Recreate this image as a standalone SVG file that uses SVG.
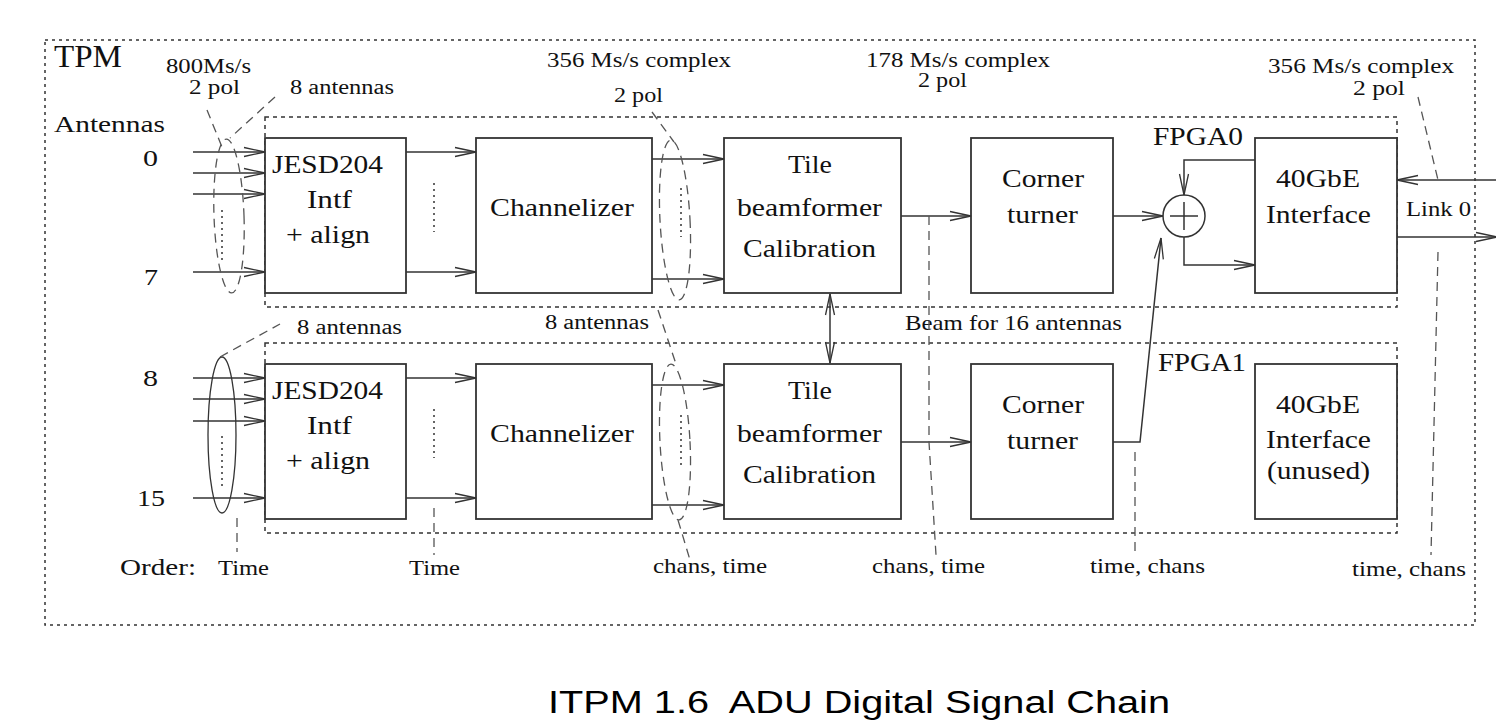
<svg xmlns="http://www.w3.org/2000/svg" width="1496" height="720" viewBox="0 0 1496 720">
<defs>
<marker id="ah" markerUnits="userSpaceOnUse" markerWidth="24" markerHeight="12" refX="22" refY="6" orient="auto" overflow="visible">
<path d="M1,1.5 L22,6 L1,10.5" fill="none" stroke="#333" stroke-width="1.3"/>
</marker>
<marker id="ahs" markerUnits="userSpaceOnUse" markerWidth="24" markerHeight="12" refX="22" refY="6" orient="auto-start-reverse" overflow="visible">
<path d="M1,1.5 L22,6 L1,10.5" fill="none" stroke="#333" stroke-width="1.3"/>
</marker>
</defs>
<style>
.box{fill:#fff;stroke:#333;stroke-width:1.8}
.frame{fill:none;stroke:#333;stroke-width:1.5;stroke-dasharray:3,4}
.fpga{fill:none;stroke:#333;stroke-width:1.5;stroke-dasharray:4,4}
.ln{fill:none;stroke:#333;stroke-width:1.5}
.arr{fill:none;stroke:#333;stroke-width:1.5;marker-end:url(#ah)}
.dash{fill:none;stroke:#555;stroke-width:1.3;stroke-dasharray:9,6}
.dot{fill:none;stroke:#333;stroke-width:1.5;stroke-dasharray:2,4}
text{font-family:"Liberation Serif","Times New Roman",serif;fill:#111}
.b{font-size:25px}
.s{font-size:20px}
.m{font-size:24px}
.o{font-size:22px}
.title{font-family:"Liberation Sans",Arial,sans-serif;font-size:31px;fill:#000}
</style>
<rect width="1496" height="720" fill="#fff"/>

<g id="frames">
<rect class="frame" x="45" y="40" width="1430" height="585"/>
<rect class="fpga" x="265" y="117" width="1132" height="190"/>
<rect class="fpga" x="265" y="343" width="1132" height="190"/>
</g>

<g id="labels">
<text x="54" y="67" style="font-size:32px" textLength="68" lengthAdjust="spacingAndGlyphs">TPM</text>
<text class="s" x="166" y="73" textLength="85" lengthAdjust="spacingAndGlyphs">800Ms/s</text>
<text class="s" x="189" y="94" textLength="51" lengthAdjust="spacingAndGlyphs">2 pol</text>
<text class="s" x="290" y="94" textLength="104" lengthAdjust="spacingAndGlyphs">8 antennas</text>
<text class="s" x="547" y="67" textLength="184" lengthAdjust="spacingAndGlyphs">356 Ms/s complex</text>
<text class="s" x="614" y="102" textLength="49" lengthAdjust="spacingAndGlyphs">2 pol</text>
<text class="s" x="866" y="67" textLength="184" lengthAdjust="spacingAndGlyphs">178 Ms/s complex</text>
<text class="s" x="918" y="87" textLength="49" lengthAdjust="spacingAndGlyphs">2 pol</text>
<text class="s" x="1268" y="73" textLength="186" lengthAdjust="spacingAndGlyphs">356 Ms/s complex</text>
<text class="s" x="1353" y="95" textLength="52" lengthAdjust="spacingAndGlyphs">2 pol</text>
<text class="m" x="54" y="132" textLength="111" lengthAdjust="spacingAndGlyphs">Antennas</text>
<text class="m" x="143" y="166" textLength="15" lengthAdjust="spacingAndGlyphs">0</text>
<text class="m" x="144" y="285" textLength="14" lengthAdjust="spacingAndGlyphs">7</text>
<text class="m" x="143" y="386" textLength="15" lengthAdjust="spacingAndGlyphs">8</text>
<text class="m" x="137" y="506" textLength="28" lengthAdjust="spacingAndGlyphs">15</text>
<text style="font-size:26px" x="1153" y="145" textLength="90" lengthAdjust="spacingAndGlyphs">FPGA0</text>
<text style="font-size:26px" x="1158" y="371" textLength="88" lengthAdjust="spacingAndGlyphs">FPGA1</text>
<text class="s" x="297" y="334" textLength="105" lengthAdjust="spacingAndGlyphs">8 antennas</text>
<text class="s" x="545" y="329" textLength="104" lengthAdjust="spacingAndGlyphs">8 antennas</text>
<text style="font-size:21px" x="905" y="330" textLength="217" lengthAdjust="spacingAndGlyphs">Beam for 16 antennas</text>
<text style="font-size:21px" x="1406" y="216" textLength="65" lengthAdjust="spacingAndGlyphs">Link 0</text>
<text class="m" x="120" y="575" textLength="76" lengthAdjust="spacingAndGlyphs">Order:</text>
<text class="o" x="218" y="575" textLength="51" lengthAdjust="spacingAndGlyphs">Time</text>
<text class="o" x="409" y="575" textLength="51" lengthAdjust="spacingAndGlyphs">Time</text>
<text class="o" x="653" y="573" textLength="114" lengthAdjust="spacingAndGlyphs">chans, time</text>
<text class="o" x="872" y="573" textLength="113" lengthAdjust="spacingAndGlyphs">chans, time</text>
<text class="o" x="1090" y="573" textLength="115" lengthAdjust="spacingAndGlyphs">time, chans</text>
<text class="o" x="1352" y="576" textLength="114" lengthAdjust="spacingAndGlyphs">time, chans</text>
<text class="title" x="548" y="713" textLength="622" lengthAdjust="spacingAndGlyphs" xml:space="preserve">ITPM 1.6  ADU Digital Signal Chain</text>
</g>

<g id="jesd0">
<rect class="box" x="265" y="138" width="141" height="155"/>
<text class="b" x="272" y="173" textLength="111" lengthAdjust="spacingAndGlyphs">JESD204</text>
<text class="b" x="307" y="208" textLength="45" lengthAdjust="spacingAndGlyphs">Intf</text>
<text class="b" x="286" y="243" textLength="84" lengthAdjust="spacingAndGlyphs">+ align</text>
</g>
<g id="chan0">
<rect class="box" x="476" y="138" width="176" height="155"/>
<text class="b" x="490" y="216" textLength="144" lengthAdjust="spacingAndGlyphs">Channelizer</text>
</g>
<g id="tile0">
<rect class="box" x="724" y="138" width="177" height="155"/>
<text class="b" x="788" y="173" textLength="44" lengthAdjust="spacingAndGlyphs">Tile</text>
<text class="b" x="737" y="216" textLength="145" lengthAdjust="spacingAndGlyphs">beamformer</text>
<text class="b" x="743" y="257" textLength="133" lengthAdjust="spacingAndGlyphs">Calibration</text>
</g>
<g id="corner0">
<rect class="box" x="971" y="138" width="142" height="155"/>
<text class="b" x="1002" y="187" textLength="82" lengthAdjust="spacingAndGlyphs">Corner</text>
<text class="b" x="1007" y="223" textLength="71" lengthAdjust="spacingAndGlyphs">turner</text>
</g>
<g id="adder0">
<circle cx="1184" cy="216" r="21" fill="#fff" stroke="#333" stroke-width="1.5"/>
<path class="ln" d="M1170,216 H1198 M1184,202 V230"/>
</g>
<g id="gbe0">
<rect class="box" x="1255" y="138" width="142" height="155"/>
<text class="b" x="1276" y="187" textLength="84" lengthAdjust="spacingAndGlyphs">40GbE</text>
<text class="b" x="1266" y="223" textLength="105" lengthAdjust="spacingAndGlyphs">Interface</text>
</g>

<g id="jesd1">
<rect class="box" x="265" y="364" width="141" height="155"/>
<text class="b" x="272" y="399" textLength="111" lengthAdjust="spacingAndGlyphs">JESD204</text>
<text class="b" x="307" y="434" textLength="45" lengthAdjust="spacingAndGlyphs">Intf</text>
<text class="b" x="286" y="469" textLength="84" lengthAdjust="spacingAndGlyphs">+ align</text>
</g>
<g id="chan1">
<rect class="box" x="476" y="364" width="176" height="155"/>
<text class="b" x="490" y="442" textLength="144" lengthAdjust="spacingAndGlyphs">Channelizer</text>
</g>
<g id="tile1">
<rect class="box" x="724" y="364" width="177" height="155"/>
<text class="b" x="788" y="399" textLength="44" lengthAdjust="spacingAndGlyphs">Tile</text>
<text class="b" x="737" y="442" textLength="145" lengthAdjust="spacingAndGlyphs">beamformer</text>
<text class="b" x="743" y="483" textLength="133" lengthAdjust="spacingAndGlyphs">Calibration</text>
</g>
<g id="corner1">
<rect class="box" x="971" y="364" width="142" height="155"/>
<text class="b" x="1002" y="413" textLength="82" lengthAdjust="spacingAndGlyphs">Corner</text>
<text class="b" x="1007" y="449" textLength="71" lengthAdjust="spacingAndGlyphs">turner</text>
</g>
<g id="gbe1">
<rect class="box" x="1255" y="364" width="142" height="155"/>
<text class="b" x="1276" y="413" textLength="84" lengthAdjust="spacingAndGlyphs">40GbE</text>
<text class="b" x="1266" y="448" textLength="105" lengthAdjust="spacingAndGlyphs">Interface</text>
<text class="b" x="1267" y="479" textLength="103" lengthAdjust="spacingAndGlyphs">(unused)</text>
</g>

<g id="connectors">
<path class="arr" d="M193,152 H265"/>
<path class="arr" d="M193,173 H265"/>
<path class="arr" d="M193,194 H265"/>
<path class="arr" d="M193,272 H265"/>
<path class="arr" d="M193,378 H265"/>
<path class="arr" d="M193,399 H265"/>
<path class="arr" d="M193,421 H265"/>
<path class="arr" d="M193,498 H265"/>
<path class="arr" d="M406,152 H476"/>
<path class="arr" d="M406,272 H476"/>
<path class="arr" d="M406,378 H476"/>
<path class="arr" d="M406,498 H476"/>
<path class="arr" d="M652,159 H724"/>
<path class="arr" d="M652,279 H724"/>
<path class="arr" d="M652,385 H724"/>
<path class="arr" d="M652,505 H724"/>
<path class="arr" d="M901,216 H971"/>
<path class="arr" d="M901,442 H971"/>
<path class="arr" d="M1113,216 H1163"/>
<path class="arr" d="M1113,442 H1140 L1161,238"/>
<path class="arr" d="M1255,160 H1184 V195"/>
<path class="arr" d="M1184,237 V265 H1255"/>
<path class="arr" d="M1500,180 H1397"/>
<path class="arr" d="M1397,237 H1497"/>
<path class="ln" d="M830,294 V363" marker-start="url(#ahs)" marker-end="url(#ah)"/>

<path class="dot" d="M222,210 V260"/>
<path class="dot" d="M222,436 V486"/>
<path class="dot" d="M434,183 V232"/>
<path class="dot" d="M434,409 V458"/>
<path class="dot" d="M681,188 V237"/>
<path class="dot" d="M681,415 V465"/>

<ellipse class="dash" cx="229" cy="216" rx="15" ry="77" transform="rotate(-2 229 216)"/>
<ellipse cx="222" cy="435" rx="14" ry="78" fill="none" stroke="#333" stroke-width="1.3"/>
<ellipse class="dash" cx="675" cy="220" rx="15" ry="80" transform="rotate(-3 675 220)"/>
<ellipse class="dash" cx="675" cy="442" rx="15" ry="78" transform="rotate(-3 675 442)"/>

<path class="dash" d="M207,110 L222,147"/>
<path class="dash" d="M275,97 L230,138"/>
<path class="dash" d="M220,357 L280,324"/>
<path class="dash" d="M237,518 V552"/>
<path class="dash" d="M434,508 V555"/>
<path class="dash" d="M652,112 L674,142"/>
<path class="dash" d="M658,310 L676,364"/>
<path class="dash" d="M678,520 L690,560"/>
<path class="dash" d="M929,216 V442 L936,555"/>
<path class="dash" d="M1135,452 V555"/>
<path class="dash" d="M1418,97 L1438,180"/>
<path class="dash" d="M1438,252 L1431,555"/>
</g>
</svg>
